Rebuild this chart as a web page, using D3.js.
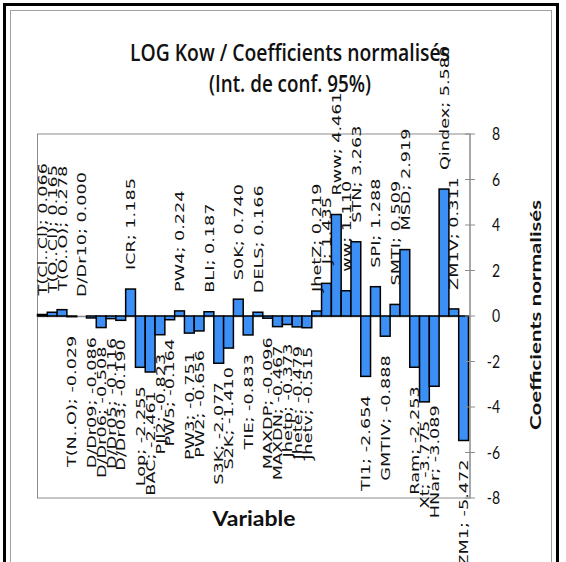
<!DOCTYPE html>
<html>
<head>
<meta charset="utf-8">
<script src="https://cdn.jsdelivr.net/npm/d3@7"></script>
<style>
  html, body { margin: 0; padding: 0; background: #fff; }
  svg { display: block; }
</style>
</head>
<body>
<div id="chart"></div>
<script>
// Variables and their normalised coefficients (LOG Kow model)
const variables = [
  'T(Cl..Cl)', 'T(O..Cl)', 'T(O..O)', 'T(N..O)', 'D/Dr10', 'D/Dr09', 'D/Dr06', 'D/Dr05',
  'D/Dr03', 'ICR', 'Lop', 'BAC', 'PJI2', 'PW5', 'PW4', 'PW3', 'PW2', 'BLI', 'S3K', 'S2K',
  'S0K', 'TIE', 'DELS', 'MAXDP', 'MAXDN', 'Jhetp', 'Jhete', 'Jhetv', 'JhetZ', 'J', 'Rww',
  'ww', 'STN', 'TI1', 'SPI', 'GMTIV', 'SMTI', 'MSD', 'Ram', 'Xt', 'HNar', 'Qindex', 'ZM1V', 'ZM1'
];
const coefficients = [
  0.066, 0.165, 0.278, -0.029, 0.000, -0.086, -0.508, -0.116,
  -0.190, 1.185, -2.255, -2.461, -0.823, -0.164, 0.224, -0.751, -0.656, 0.187, -2.077, -1.410,
  0.740, -0.833, 0.166, -0.096, -0.467, -0.373, -0.479, -0.515, 0.219, 1.435, 4.461,
  1.110, 3.263, -2.654, 1.288, -0.888, 0.509, 2.919, -2.253, -3.775, -3.089, 5.580, 0.311, -5.472
];
const yTicks = [-8, -6, -4, -2, 0, 2, 4, 6, 8];
const titleLines = ['LOG Kow / Coefficients normalisés', '(Int. de conf. 95%)'];

const W = 566, H = 562;
const plot = { left: 37.5, right: 470, top: 134, bottom: 498 };
const BLUE = '#3b8ff5';
const GRID = '#8c8c8c';

const svg = d3.select('#chart').append('svg')
  .attr('width', W).attr('height', H)
  .attr('viewBox', `0 0 ${W} ${H}`);

// outer frame: thick black + thin grey inner line
svg.append('rect').attr('x', 4.5).attr('y', 4.5).attr('width', 553).attr('height', 620)
  .attr('fill', 'none').attr('stroke', '#000').attr('stroke-width', 3);
svg.append('rect').attr('x', 10.5).attr('y', 10.5).attr('width', 541).attr('height', 620)
  .attr('fill', 'none').attr('stroke', '#a0a0a0').attr('stroke-width', 1);

const x = d3.scaleBand().domain(variables).range([plot.left, 468.5]).padding(0);
const y = d3.scaleLinear().domain([-8, 8]).range([plot.bottom, plot.top]);

// plot area border
svg.append('rect')
  .attr('x', plot.left).attr('y', plot.top)
  .attr('width', plot.right - plot.left).attr('height', plot.bottom - plot.top)
  .attr('fill', 'none').attr('stroke', GRID).attr('stroke-width', 1);

// zero line
svg.append('line')
  .attr('x1', plot.left).attr('x2', plot.right)
  .attr('y1', Math.round(y(0)) + 0.5).attr('y2', Math.round(y(0)) + 0.5)
  .attr('stroke', GRID).attr('stroke-width', 1.5);

const data = variables.map((name, i) => ({ name, value: coefficients[i] }));

// bars
svg.append('g').selectAll('rect').data(data).join('rect')
  .attr('x', (d) => x(d.name))
  .attr('width', x.bandwidth())
  .attr('y', (d) => y(Math.max(0, d.value)))
  .attr('height', (d) => Math.abs(y(d.value) - y(0)))
  .attr('fill', BLUE)
  .attr('stroke', '#000').attr('stroke-width', 1.5);

// rotated data labels, outside end (the last one runs off the bottom, as in the source)
const GAP = 19;
svg.append('g').selectAll('text').data(data).join('text')
  .attr('transform', (d) => {
    const cx = x(d.name) + x.bandwidth() / 2;
    const cy = d.value >= 0 ? y(d.value) - GAP : y(d.value) + GAP;
    return `translate(${cx},${cy}) rotate(-90) scale(1.36,1)`;
  })
  .attr('text-anchor', (d) => (d.value >= 0 ? 'start' : 'end'))
  .attr('dy', '0.36em')
  .style('font-family', '"DejaVu Sans", sans-serif')
  .style('font-size', '13px')
  .style('fill', '#111')
  .text((d) => `${d.name}; ${d.value.toFixed(3)}`);

// right y axis
const ax = svg.append('g');
ax.append('line')
  .attr('x1', plot.right).attr('x2', plot.right)
  .attr('y1', plot.top).attr('y2', plot.bottom)
  .attr('stroke', GRID).attr('stroke-width', 1);
const t = ax.selectAll('g').data(yTicks).join('g')
  .attr('transform', (d) => `translate(0,${y(d)})`);
t.append('line').attr('x1', plot.right - 5).attr('x2', plot.right + 5)
  .attr('stroke', GRID).attr('stroke-width', 1);
t.append('text')
  .attr('transform', 'translate(500,0) scale(1,1.25)')
  .attr('text-anchor', 'end').attr('dy', '0.36em')
  .style('font-family', 'Lato, "Open Sans", sans-serif')
  .style('font-size', '14px')
  .style('fill', '#111')
  .text((d) => d);

// axis titles
svg.append('text')
  .attr('transform', 'translate(541,315) rotate(-90)')
  .attr('text-anchor', 'middle')
  .attr('textLength', 230).attr('lengthAdjust', 'spacingAndGlyphs')
  .style('font-family', 'Lato, "Open Sans", sans-serif')
  .style('font-size', '16px').style('font-weight', 'bold')
  .style('fill', '#111')
  .text('Coefficients normalisés');

svg.append('text')
  .attr('transform', 'translate(254,526) scale(1,1.15)')
  .attr('text-anchor', 'middle')
  .attr('textLength', 83).attr('lengthAdjust', 'spacingAndGlyphs')
  .style('font-family', 'Lato, "Open Sans", sans-serif')
  .style('font-size', '18px').style('font-weight', 'bold')
  .style('fill', '#111')
  .text('Variable');

// chart title, two lines
const titleWidths = [320, 162];
svg.append('g').selectAll('text').data(titleLines).join('text')
  .attr('transform', (d, i) => `translate(290,${61 + i * 31}) scale(1,1.2)`)
  .attr('text-anchor', 'middle')
  .attr('textLength', (d, i) => titleWidths[i]).attr('lengthAdjust', 'spacingAndGlyphs')
  .style('font-family', '"Open Sans", Lato, sans-serif')
  .style('font-size', '19px').style('font-weight', 600)
  .style('fill', '#111')
  .text((d) => d);
</script>
</body>
</html>
